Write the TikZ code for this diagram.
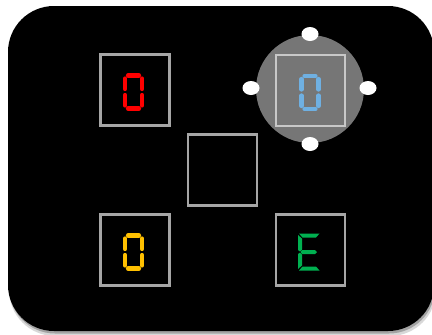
\documentclass[tikz,border=0pt]{standalone}
\usetikzlibrary{calc,shapes.geometric}
\definecolor{boxgray}{HTML}{A6A6A6}
\definecolor{lightbox}{HTML}{C8C8C8}
\definecolor{disc}{HTML}{767676}
\definecolor{dred}{HTML}{FF0000}
\definecolor{dblue}{HTML}{6FB0E2}
\definecolor{dyellow}{HTML}{FFC000}
\definecolor{dgreen}{HTML}{00B050}
\tikzset{
  x=1pt, y=-1pt,
  cell/.style={draw=boxgray, line width=2.4pt, minimum width=69pt, minimum height=71pt, inner sep=0pt},
  seg/.style={line width=4.2pt, line cap=round},
  dot/.style={fill=white, draw=none, ellipse, minimum width=17pt, minimum height=14pt, inner sep=0pt},
  pics/zero/.style={code={
    \draw[seg,#1] (-5.5,-16.5)--(5.5,-16.5);
    \draw[seg,#1] (8.5,-13.5)--(8.5,-3);
    \draw[seg,#1] (8.5,3)--(8.5,13.5);
    \draw[seg,#1] (-5.5,16.5)--(5.5,16.5);
    \draw[seg,#1] (-8.5,3)--(-8.5,13.5);
    \draw[seg,#1] (-8.5,-13.5)--(-8.5,-3);
  }},
  pics/letterE/.style={code={
    \fill[#1] (-9.5,-18.5)--(11,-18.5)--(7.5,-14.5)--(-6,-14.5)--cycle;
    \fill[#1] (-10.5,-17)--(-6.5,-13.5)--(-6.5,-2.5)--(-8.5,-0.5)--(-10.5,-2)--cycle;
    \fill[#1] (-10.5,17)--(-6.5,13.5)--(-6.5,2.5)--(-8.5,0.5)--(-10.5,2)--cycle;
    \fill[#1] (-9.5,18.5)--(11,18.5)--(7.5,14.5)--(-6,14.5)--cycle;
    \fill[#1] (-6.5,-2)--(6.5,-2)--(8.5,0)--(6.5,2)--(-6.5,2)--(-8,0)--cycle;
  }}
}
\begin{document}
\begin{tikzpicture}
\useasboundingbox (0,0) rectangle (432,335);
\fill[white] (0,0) rectangle (432,335);
\begin{scope}
\clip (0,0) rectangle (432,335);
\fill[black!25, opacity=0.6, rounded corners=46pt] (9,11) rectangle (436,336);
\fill[black!50, opacity=0.6, rounded corners=46pt] (9,9) rectangle (435,333.5);
\fill[black, rounded corners=46pt] (8,6) rectangle (434,331);
\end{scope}
% gray disc with handles
\node[circle, fill=disc, minimum size=108pt, inner sep=0pt] (disc) at (310,89) {};
\node[dot] (hn) at (310,34) {};
\node[dot] (hs) at (310,144) {};
\node[dot] (hw) at (251,88) {};
\node[dot] (he) at (368,88) {};
% cells
\node[cell] (red) at (135,90) {};
\node[cell, draw=lightbox] (blue) at (310.5,90.5) {};
\node[cell] (mid) at (222.5,170) {};
\node[cell] (yellow) at (135,250) {};
\node[cell] (green) at (310.5,250) {};
% digits
\pic at (133.5,92) {zero=dred};
\pic at (310,92.5) {zero=dblue};
\pic at (133.5,252) {zero=dyellow};
\pic at (308.5,252) {letterE=dgreen};
\end{tikzpicture}
\end{document}
